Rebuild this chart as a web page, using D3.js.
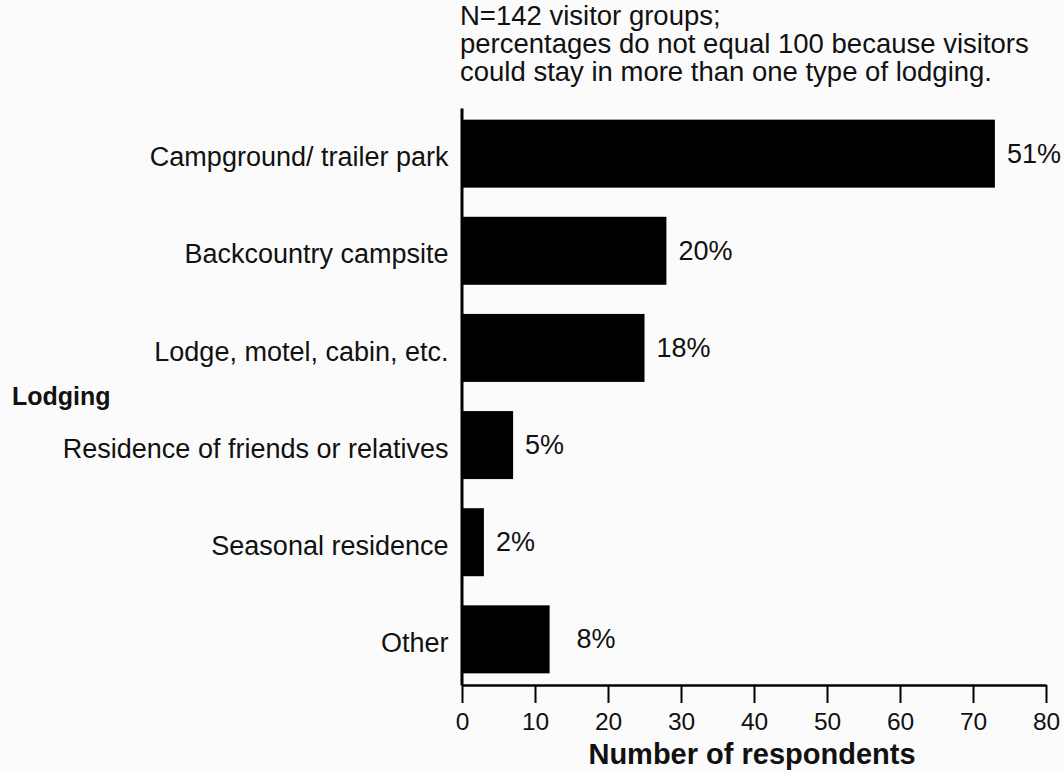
<!DOCTYPE html>
<html>
<head>
<meta charset="utf-8">
<script src="https://cdn.jsdelivr.net/npm/d3@7"></script>
<style>
  html, body { margin: 0; padding: 0; background: #fbfbfb; }
  svg { display: block; }
  text { font-family: "Liberation Sans", Arial, Helvetica, sans-serif; fill: #111; }
</style>
</head>
<body>
<svg id="chart" width="1064" height="771"></svg>
<script>
// ---- data ----
const categories = [
  "Campground/ trailer park",
  "Backcountry campsite",
  "Lodge, motel, cabin, etc.",
  "Residence of friends or relatives",
  "Seasonal residence",
  "Other"
];
const counts = [73, 28, 25, 7, 3, 12];
const percentLabels = ["51%", "20%", "18%", "5%", "2%", "8%"];
const xTicks = [0, 10, 20, 30, 40, 50, 60, 70, 80];
const noteLines = [
  "N=142 visitor groups;",
  "percentages do not equal 100 because visitors",
  "could stay in more than one type of lodging."
];
const yTitle = "Lodging";
const xTitle = "Number of respondents";

// ---- drawing ----
const svg = d3.select("#chart");
svg.append("rect").attr("width", 1064).attr("height", 771).attr("fill", "#fbfbfb");

const x = d3.scaleLinear().domain([0, 80]).range([462, 1046]);
const y = d3.scaleBand().domain(categories).range([108, 685])
  .paddingInner(0.3).paddingOuter(0.12);

const rows = categories.map((c, i) => ({ cat: c, value: counts[i], pct: percentLabels[i] }));

// bars
svg.append("g").selectAll("rect").data(rows).join("rect")
  .attr("x", x(0))
  .attr("y", d => y(d.cat))
  .attr("width", d => x(d.value) - x(0))
  .attr("height", y.bandwidth())
  .attr("fill", "#000");

// percent labels
svg.append("g").selectAll("text").data(rows).join("text")
  .attr("x", d => x(d.value) + (d.cat === "Other" ? 27 : 12))
  .attr("y", d => y(d.cat) + y.bandwidth() / 2 + 9)
  .attr("font-size", 27)
  .text(d => d.pct);

// x axis
const xAxis = d3.axisBottom(x).tickValues(xTicks).tickSizeInner(18).tickSizeOuter(0).tickPadding(10);
const gx = svg.append("g").attr("transform", "translate(0,685)").call(xAxis);
gx.select(".domain").attr("stroke", "#000").attr("stroke-width", 2.5);
gx.selectAll(".tick line").attr("stroke", "#000").attr("stroke-width", 2);
gx.selectAll(".tick text").attr("font-size", 24.5).attr("fill", "#111")
  .attr("font-family", "'Liberation Sans', Arial, sans-serif");

// y axis
const yAxis = d3.axisLeft(y).tickSize(0).tickPadding(13);
const gy = svg.append("g").attr("transform", "translate(461.5,0)").call(yAxis);
gy.select(".domain").attr("stroke", "#000").attr("stroke-width", 3);
gy.selectAll(".tick text").attr("font-size", 27).attr("dy", "0.47em").attr("fill", "#111")
  .attr("font-family", "'Liberation Sans', Arial, sans-serif");

// axis titles
svg.append("text").attr("x", 12).attr("y", 405)
  .attr("font-size", 25).attr("font-weight", "bold").text(yTitle);
svg.append("text").attr("x", 752).attr("y", 764)
  .attr("text-anchor", "middle")
  .attr("font-size", 29).attr("font-weight", "bold").text(xTitle);

// note
svg.append("g").selectAll("text").data(noteLines).join("text")
  .attr("x", 460)
  .attr("y", (d, i) => 25 + i * 28)
  .attr("font-size", 27.5)
  .text(d => d);
</script>
</body>
</html>
